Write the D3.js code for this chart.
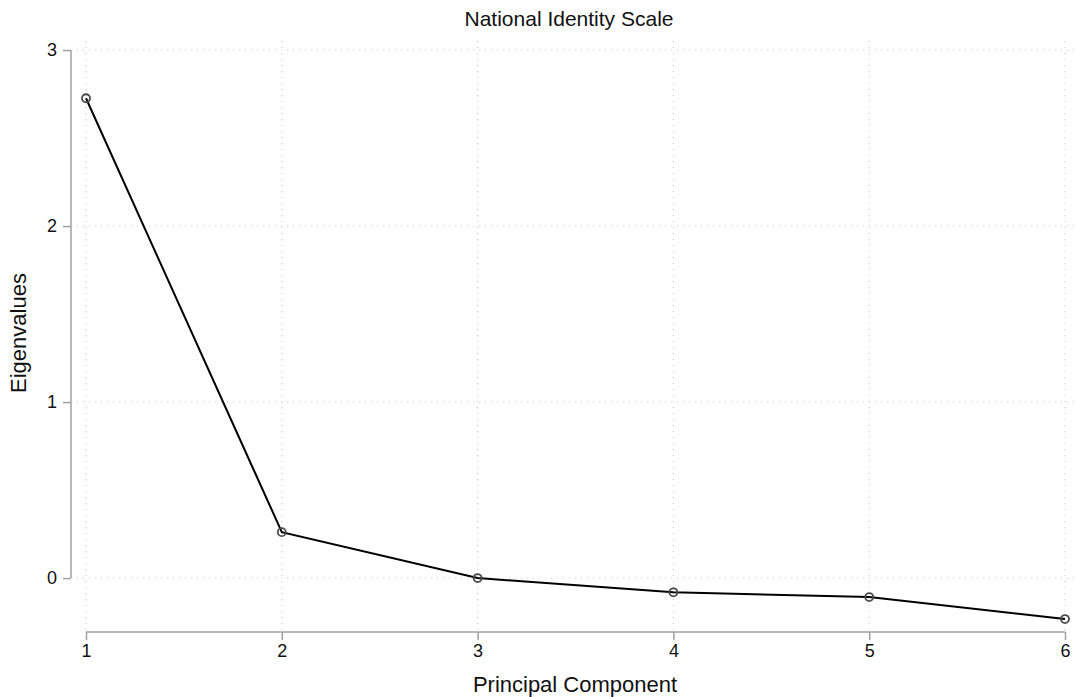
<!DOCTYPE html>
<html><head><meta charset="utf-8">
<script src="https://cdn.jsdelivr.net/npm/d3@7"></script>
<style>body{margin:0;background:#fff;font-family:"Liberation Sans",Arial,sans-serif;}</style>
</head><body>
<svg id="c" width="1076" height="697"></svg>
<script>
const components = [1, 2, 3, 4, 5, 6];
const eigenvalues = [2.726, 0.261, 0.0, -0.081, -0.108, -0.233];
const yTicks = [0, 1, 2, 3];
const xTicks = [1, 2, 3, 4, 5, 6];
const title = "National Identity Scale";
const xTitle = "Principal Component";
const yTitle = "Eigenvalues";

const svg = d3.select("#c");
const x = d3.scaleLinear().domain([0.954, 6.046]).range([77, 1074]);
const y = d3.scaleLinear().domain([-0.295, 3.057]).range([630, 40]);
const axisColor = "#a0a0a0";
const gridColor = "#c8c8c8";
const font = "'Liberation Sans', Arial, sans-serif";

// grid
svg.append("g").selectAll("line").data(yTicks).join("line")
  .attr("x1", x.range()[0]).attr("x2", x.range()[1])
  .attr("y1", d => y(d)).attr("y2", d => y(d))
  .attr("stroke", gridColor).attr("stroke-width", 1).attr("stroke-dasharray", "1,5");
svg.append("g").selectAll("line").data(xTicks).join("line")
  .attr("y1", y.range()[0]).attr("y2", y.range()[1])
  .attr("x1", d => x(d)).attr("x2", d => x(d))
  .attr("stroke", gridColor).attr("stroke-width", 1).attr("stroke-dasharray", "1,5");

// y axis
const yAxis = svg.append("g").attr("transform", "translate(71,0)")
  .call(d3.axisLeft(y).tickValues(yTicks).tickFormat(d3.format("d")).tickSize(8).tickSizeOuter(0).tickPadding(6));
yAxis.select(".domain").attr("d", `M0,${y(3)}V${y(0)}`);
// x axis
const xAxis = svg.append("g").attr("transform", "translate(0,632)")
  .call(d3.axisBottom(x).tickValues(xTicks).tickFormat(d3.format("d")).tickSize(8).tickSizeOuter(0).tickPadding(4));
xAxis.select(".domain").attr("d", `M${x(1)},0H${x(6)}`);
[yAxis, xAxis].forEach(g => {
  g.attr("font-size", 18).attr("font-family", font);
  g.select(".domain").attr("stroke", axisColor).attr("stroke-width", 1.5);
  g.selectAll(".tick line").attr("stroke", axisColor).attr("stroke-width", 1.5);
  g.selectAll(".tick text").attr("fill", "#111").attr("font-size", 18).attr("font-family", font);
});

// line
const pts = components.map((c, i) => [c, eigenvalues[i]]);
svg.append("path").datum(pts)
  .attr("d", d3.line().x(d => x(d[0])).y(d => y(d[1])))
  .attr("fill", "none").attr("stroke", "#000").attr("stroke-width", 2);
svg.append("g").selectAll("circle").data(pts).join("circle")
  .attr("cx", d => x(d[0])).attr("cy", d => y(d[1])).attr("r", 4)
  .attr("fill", "none").attr("stroke", "#4a4a4a").attr("stroke-width", 1.8);

// titles
svg.append("text").attr("x", 569).attr("y", 26).attr("text-anchor", "middle")
  .attr("font-family", font).attr("font-size", 21).attr("fill", "#111").text(title);
svg.append("text").attr("x", 575).attr("y", 692).attr("text-anchor", "middle")
  .attr("font-family", font).attr("font-size", 22).attr("fill", "#111").text(xTitle);
svg.append("text").attr("transform", "translate(26,333) rotate(-90)").attr("text-anchor", "middle")
  .attr("font-family", font).attr("font-size", 22).attr("fill", "#111").text(yTitle);
</script>
</body></html>
